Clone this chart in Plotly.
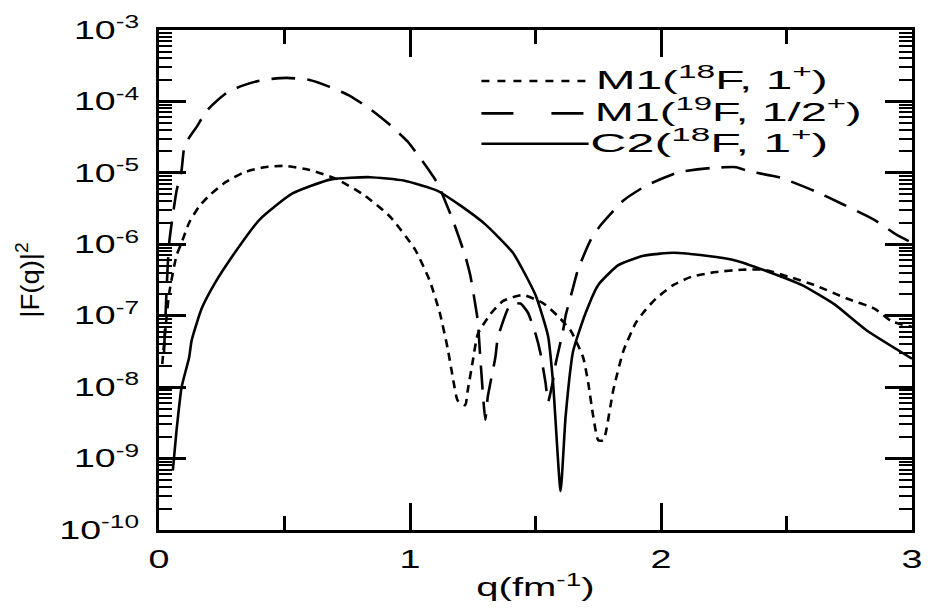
import plotly.graph_objects as go

# ---------------- data ----------------
q_m1_18f = [0.013, 0.04, 0.07, 0.09, 0.12, 0.16, 0.20, 0.265, 0.34, 0.42, 0.50, 0.60, 0.71, 0.82, 0.92,
            1.02, 1.08, 1.12, 1.15, 1.17, 1.19, 1.22, 1.23, 1.25, 1.27, 1.32, 1.37, 1.45, 1.53, 1.59,
            1.64, 1.69, 1.71, 1.73, 1.75, 1.77, 1.78, 1.81, 1.85, 1.90, 1.94, 1.98, 2.05, 2.12, 2.22,
            2.32, 2.41, 2.51, 2.61, 2.74, 2.85, 2.92, 3.0]
f_m1_18f = [2.1e-8, 2.0e-7, 7.0e-7, 1.05e-6, 2.0e-6, 3.4e-6, 4.8e-6, 7.4e-6, 1.02e-5, 1.2e-5, 1.25e-5,
            1.1e-5, 8.1e-6, 4.8e-6, 2.45e-6, 8.5e-7, 3.0e-7, 1.05e-7, 3.5e-8, 1.4e-8, 6.5e-9, 5.6e-9,
            9.0e-9, 2.3e-8, 5.5e-8, 1.05e-7, 1.6e-7, 1.95e-7, 1.5e-7, 9.8e-8, 6.2e-8, 2.6e-8, 1.15e-8,
            3.9e-9, 1.8e-9, 1.8e-9, 2.3e-9, 9.1e-9, 3.2e-8, 8.0e-8, 1.23e-7, 1.74e-7, 2.7e-7, 3.5e-7,
            4.1e-7, 4.4e-7, 4.4e-7, 3.5e-7, 2.7e-7, 1.74e-7, 1.26e-7, 8.3e-8, 7.0e-8]

q_m1_19f = [0.02, 0.04, 0.07, 0.09, 0.10, 0.12, 0.15, 0.19, 0.27, 0.33, 0.40, 0.45, 0.51, 0.60, 0.68,
            0.76, 0.84, 0.92, 0.99, 1.06, 1.11, 1.17, 1.22, 1.24, 1.26, 1.27, 1.28, 1.30, 1.31, 1.34,
            1.35, 1.40, 1.44, 1.47, 1.50, 1.52, 1.54, 1.55, 1.57, 1.58, 1.61, 1.62, 1.65, 1.67, 1.72,
            1.76, 1.85, 1.94, 2.07, 2.20, 2.30, 2.35, 2.47, 2.61, 2.72, 2.85, 2.94, 3.0]
f_m1_19f = [3.0e-8, 1.0e-6, 5.6e-6, 1.1e-5, 2.2e-5, 3.1e-5, 4.4e-5, 7.4e-5, 1.32e-4, 1.65e-4, 1.95e-4,
            2.07e-4, 2.14e-4, 2.0e-4, 1.6e-4, 1.2e-4, 7.9e-5, 4.7e-5, 2.75e-5, 1.3e-5, 7.1e-6, 2.2e-6,
            6.9e-7, 3.7e-7, 1.45e-7, 8.5e-8, 2.6e-8, 3.5e-9, 7.4e-9, 2.6e-8, 4.9e-8, 1.45e-7, 1.48e-7,
            1.1e-7, 5.6e-8, 2.95e-8, 1.15e-8, 6.2e-9, 1.26e-8, 2.1e-8, 6.2e-8, 1.0e-7, 2.5e-7, 4.5e-7,
            1.15e-6, 1.86e-6, 4.1e-6, 6.6e-6, 1.02e-5, 1.17e-5, 1.2e-5, 1.05e-5, 8.7e-6, 5.6e-6, 3.7e-6,
            2.2e-6, 1.35e-6, 1.05e-6]

q_c2_18f = [0.055, 0.07, 0.09, 0.12, 0.13, 0.17, 0.225, 0.28, 0.40, 0.53, 0.685, 0.84, 0.975, 1.11,
            1.20, 1.30, 1.41, 1.50, 1.55, 1.57, 1.60, 1.62, 1.65, 1.70, 1.75, 1.83, 1.93, 2.05, 2.18,
            2.30, 2.43, 2.56, 2.69, 2.82, 3.0]
f_c2_18f = [6.8e-10, 2.5e-9, 1.0e-8, 2.6e-8, 4.5e-8, 1.26e-7, 2.95e-7, 5.9e-7, 2.2e-6, 5.1e-6, 8.1e-6,
            8.7e-6, 7.8e-6, 5.6e-6, 3.5e-6, 1.9e-6, 7.6e-7, 1.95e-7, 5.2e-8, 1.15e-8, 3.5e-10, 3.9e-9,
            3.2e-8, 1.1e-7, 2.7e-7, 5.1e-7, 6.9e-7, 7.6e-7, 6.9e-7, 5.9e-7, 4.1e-7, 2.7e-7, 1.45e-7,
            6.2e-8, 2.5e-8]

series_names = ["M1(<sup>18</sup>F, 1<sup>+</sup>)",
                "M1(<sup>19</sup>F, 1/2<sup>+</sup>)",
                "C2(<sup>18</sup>F, 1<sup>+</sup>)"]

x_tickvals = [0, 1, 2, 3]
x_ticktext = ["0", "1", "2", "3"]
y_exponents = [-10, -9, -8, -7, -6, -5, -4, -3]

# ---------------- figure ----------------
FONT = "Liberation Sans, Arial, sans-serif"
W, H = 931, 610
ML, MR, MT, MB = 159, 13, 23, 77

dashes = ["8px,6px", "24px,12px", "solid"]
legend_dashes = ["8px,8px", "32px,38px", "solid"]

fig = go.Figure()
for qs, fs, name, d in zip([q_m1_18f, q_m1_19f, q_c2_18f], [f_m1_18f, f_m1_19f, f_c2_18f],
                           series_names, dashes):
    fig.add_trace(go.Scatter(x=qs, y=fs, mode="lines", name=name, showlegend=False,
                             line=dict(color="black", width=2.6, dash=d,
                                       shape="spline", smoothing=0.5)))

y_tickvals = [10.0 ** e for e in y_exponents]
y_ticktext = ["10<sup>%d</sup>" % e for e in y_exponents]
y_minor = [k * 10.0 ** e for e in y_exponents[:-1] for k in range(2, 10)]

fig.update_layout(
    width=W, height=H,
    margin=dict(l=ML, r=MR, t=MT, b=MB),
    paper_bgcolor="white", plot_bgcolor="white",
    font=dict(family=FONT, color="black", size=25),
    showlegend=False,
)
fig.update_xaxes(
    range=[0, 3], tickmode="array", tickvals=x_tickvals, ticktext=x_ticktext,
    ticks="inside", ticklen=27, tickwidth=2.5, tickcolor="black",
    minor=dict(tickmode="array", tickvals=[0.5, 1.5, 2.5], ticks="inside", ticklen=14,
               tickwidth=2.5, tickcolor="black", showgrid=False),
    showline=True, linewidth=3, linecolor="black", mirror="allticks",
    showgrid=False, zeroline=False, tickfont=dict(size=26), ticklabelstandoff=4,
    title=dict(text="q(fm<sup>-1</sup>)", font=dict(size=25), standoff=6),
)
fig.update_yaxes(
    type="log", range=[-10, -3], tickmode="array", tickvals=y_tickvals, ticktext=y_ticktext,
    ticks="inside", ticklen=27, tickwidth=2.5, tickcolor="black",
    minor=dict(tickmode="array", tickvals=y_minor, ticks="inside", ticklen=13,
               tickwidth=2, tickcolor="black", showgrid=False),
    showline=True, linewidth=3, linecolor="black", mirror="allticks",
    showgrid=False, zeroline=False, tickfont=dict(size=25), ticklabelstandoff=12,
    title=dict(text="|F(q)|<sup>2</sup>", font=dict(size=25), standoff=40),
)

# ---------------- manual legend ----------------
pw, ph = W - ML - MR, H - MT - MB
def px(x): return (x - ML) / pw
def py(y): return (H - MB - y) / ph

legend_line_rows = [75, 108, 139]
legend_text_rows = [72, 105, 136]
legend_centers = [716, 733, 714]
legend_widths = [232, 267, 238]
for name, d, yl, yt, xc in zip(series_names, legend_dashes, legend_line_rows,
                               legend_text_rows, legend_centers):
    fig.add_shape(type="line", xref="paper", yref="paper",
                  x0=px(484), x1=px(592), y0=py(yl), y1=py(yl),
                  line=dict(color="black", width=2.6, dash=d))
    fig.add_annotation(xref="paper", yref="paper", x=px(xc), y=py(yt),
                       xanchor="center", yanchor="middle", text=name, showarrow=False,
                       font=dict(size=25, family=FONT, color="black"))

# the reference lettering is horizontally stretched; widen the text glyphs to match
post_js = """
document.body.style.margin = '0';
var gd = document.getElementById('{plot_id}');
function stretch(sel, k) {
  gd.querySelectorAll(sel).forEach(function (t) {
    var L = t.getComputedTextLength();
    t.setAttribute('textLength', L * k);
    t.setAttribute('lengthAdjust', 'spacingAndGlyphs');
  });
}
stretch('.ytick text', 1.5);
stretch('.xtick text', 1.45);
stretch('.xtitle', 1.6);
stretch('.ytitle', 1.1);
var widths = %s;
gd.querySelectorAll('.annotation-text').forEach(function (t, i) {
  t.setAttribute('textLength', widths[i]);
  t.setAttribute('lengthAdjust', 'spacingAndGlyphs');
});
""" % str(legend_widths)

fig.write_html("out.html", post_script=post_js, config={"displayModeBar": False})
